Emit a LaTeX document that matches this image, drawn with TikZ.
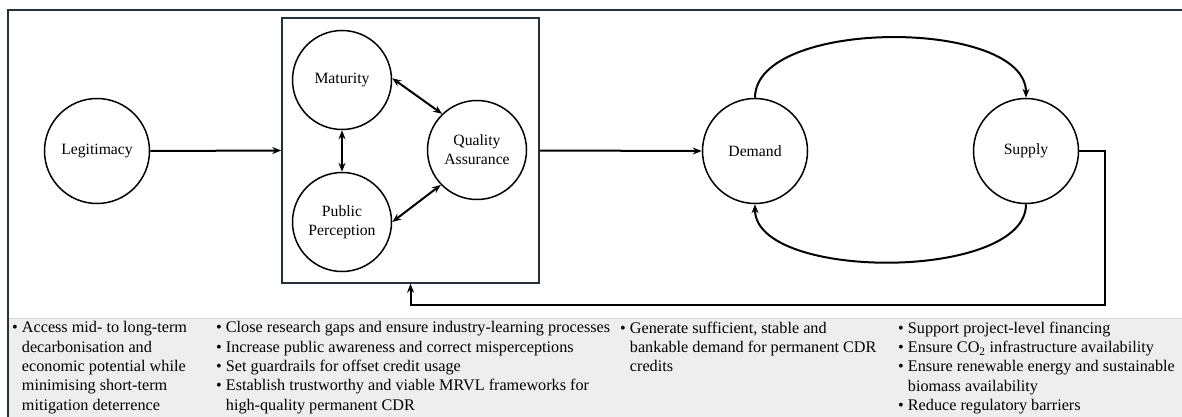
\documentclass[tikz,border=0pt]{standalone}
\usepackage{fontspec}
\setmainfont{Liberation Serif}
\usetikzlibrary{arrows.meta,calc}
\definecolor{slate}{HTML}{22313A}
\definecolor{panelgray}{HTML}{EEEEEE}
\newcommand{\bigd}{105}
\newcommand{\smalld}{99}
\newcommand{\bul}{\textbullet\ }
\newcommand{\ind}{\hphantom{\textbullet\ }}

\begin{document}
\begin{tikzpicture}[x=1pt,y=-1pt,
  >={Stealth[length=9pt,width=7pt]},
  factor/.style={circle,draw,line width=1.5pt,inner sep=0pt,align=center,
    font=\fontsize{15.7}{19}\selectfont},
  link/.style={line width=2pt},
  note/.style={anchor=north west,inner sep=0pt,align=left,
    font=\fontsize{16.2}{19.3}\selectfont}]
\useasboundingbox (0,0) rectangle (1182,417);
% panel and frame
\fill[panelgray] (8,318) rectangle (1182,417);
\draw[black!15] (8,318) -- (1182,318);
\draw[slate,line width=2pt] (8,417) -- (8,10) -- (1182,10);
% factors
\node[factor,minimum size=\bigd] (leg) at (97,151) {Legitimacy};
\node[draw=slate,line width=1.5pt,minimum width=257,minimum height=265] (group) at (410.5,150.5) {};
\node[factor,minimum size=\smalld] (mat) at (342,80) {Maturity};
\node[factor,minimum size=\smalld] (pub) at (342,222) {Public\\Perception};
\node[factor,minimum size=\smalld] (qa) at (477,150) {Quality\\Assurance};
\node[factor,minimum size=\bigd] (dem) at (755,151) {Demand};
\node[factor,minimum size=\bigd] (sup) at (1026,151) {Supply};
\coordinate (fb) at (1105,305);
% links
\draw[link,->] (leg.east) -- (group.west);
\draw[link,<->] (mat.south) -- (pub.north);
\draw[link,<->] (mat.2) -- (qa.134);
\draw[link,<->] (pub.0) -- (qa.224);
\draw[link,->] (group.east) -- (dem.west);
\draw[link,->] (dem.north) .. controls +(0,-80) and +(0,-80) .. (sup.north);
\draw[link,->] (sup.south) .. controls +(0,77) and +(0,77) .. (dem.south);
\draw[link,->] (sup.east) -| (fb) -| (group.south);
% notes
\node[note] (n1) at (12,321.5) {\bul Access mid- to long-term\\
  \ind decarbonisation and\\
  \ind economic potential while\\
  \ind minimising short-term\\
  \ind mitigation deterrence};
\node[note] (n2) at (216,321.5) {\bul Close research gaps and ensure industry-learning processes\\
  \bul Increase public awareness and correct misperceptions\\
  \bul Set guardrails for offset credit usage\\
  \bul Establish trustworthy and viable MRVL frameworks for\\
  \ind high-quality permanent CDR};
\node[note] (n3) at (620,321.5) {\bul Generate sufficient, stable and\\
  \ind bankable demand for permanent CDR\\
  \ind credits};
\node[note] (n4) at (898,321.5) {\bul Support project-level financing\\
  \bul Ensure CO\textsubscript{2} infrastructure availability\\
  \bul Ensure renewable energy and sustainable\\
  \ind biomass availability\\
  \bul Reduce regulatory barriers};
\end{tikzpicture}
\end{document}
